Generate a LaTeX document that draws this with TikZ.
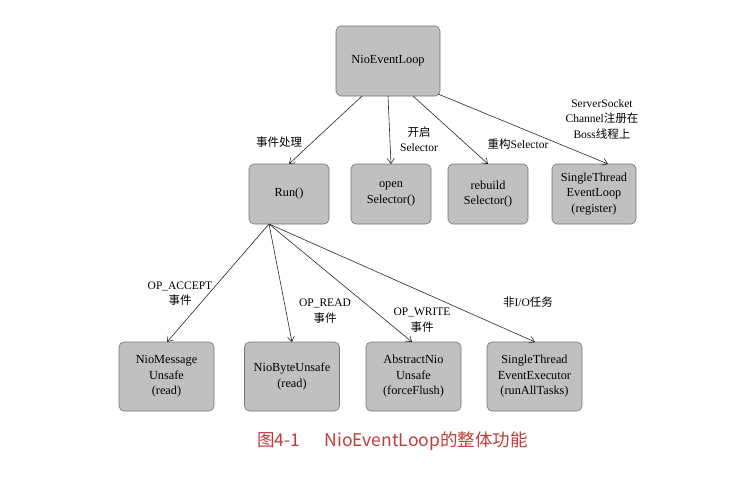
\documentclass[tikz,border=0pt]{standalone}
\usepackage{fontspec}
\setmainfont{Liberation Serif}
\newfontfamily\cjk{Noto Sans CJK SC}
\usetikzlibrary{arrows.meta}
\definecolor{boxfill}{RGB}{192,192,192}
\definecolor{boxline}{RGB}{115,115,115}
\definecolor{captred}{RGB}{190,60,60}
\tikzset{
  box/.style={draw=boxline, fill=boxfill, rounded corners=5pt, line width=0.6pt,
    align=center, font=\fontsize{12.3}{15.5}\selectfont, inner sep=0pt},
  conn/.style={-{Straight Barb[length=5pt,width=7pt]}, line width=0.6pt, black!85},
  lbl/.style={align=center, font=\fontsize{11.5}{15.5}\selectfont, inner sep=0pt},
}
\begin{document}
\begin{tikzpicture}[x=1pt,y=-1pt]
\useasboundingbox (0,0) rectangle (742,483);
% top row
\node[box, minimum width=104pt, minimum height=70pt] (nel) at (388,61) {NioEventLoop};
\node[box, minimum width=80pt, minimum height=60pt] (run) at (289,194) {Run()};
\node[box, minimum width=80pt, minimum height=60pt] (open) at (391,194) {open\\Selector()};
\node[box, minimum width=80pt, minimum height=60pt] (rebuild) at (488,194) {rebuild\\Selector()};
\node[box, minimum width=84pt, minimum height=60pt] (stel) at (594,194) {SingleThread\\EventLoop\\(register)};
% bottom row
\node[box, minimum width=95pt, minimum height=69pt] (nmu) at (166.5,376.5) {NioMessage\\Unsafe\\(read)};
\node[box, minimum width=95pt, minimum height=69pt] (nbu) at (292,376.5) {NioByteUnsafe\\(read)};
\node[box, minimum width=95pt, minimum height=69pt] (anu) at (413.5,376.5) {AbstractNio\\Unsafe\\(forceFlush)};
\node[box, minimum width=95pt, minimum height=69pt] (stee) at (534.5,376.5) {SingleThread\\EventExecutor\\(runAllTasks)};
% anchor coordinates
\coordinate (a1) at (362,96);
\coordinate (a2) at (388,96);
\coordinate (a3) at (413,96);
\coordinate (a4) at (438,94);
\coordinate (b1) at (289,164);
\coordinate (b2) at (391,164);
\coordinate (b3) at (488,164);
\coordinate (b4) at (608,164);
\coordinate (r0) at (269,224);
\coordinate (c1) at (167,342);
\coordinate (c2) at (292,342);
\coordinate (c3) at (412,342);
\coordinate (c4) at (535,342);
\draw[conn] (a1) -- (b1);
\draw[conn] (a2) -- (b2);
\draw[conn] (a3) -- (b3);
\draw[conn] (a4) -- (b4);
\draw[conn] (r0) -- (c1);
\draw[conn] (r0) -- (c2);
\draw[conn] (r0) -- (c3);
\draw[conn] (r0) -- (c4);
% labels
\node[lbl] (l1) at (279,142) {\cjk 事件处理};
\node[lbl] (l2) at (419,139) {{\cjk 开启}\\Selector};
\node[lbl] (l3) at (518,144) {{\cjk 重构}Selector};
\node[lbl] (l4) at (602,119) {ServerSocket\\Channel{\cjk 注册在}\\Boss{\cjk 线程上}};
\node[lbl] (l5) at (180,293.5) {OP\_ACCEPT\\{\cjk 事件}};
\node[lbl] (l6) at (325,311) {OP\_READ\\{\cjk 事件}};
\node[lbl] (l7) at (422,320) {OP\_WRITE\\{\cjk 事件}};
\node[lbl] (l8) at (528,302) {{\cjk 非}I/O{\cjk 任务}};
\node[font=\cjk\fontsize{17.5}{19}\selectfont, text=captred, inner sep=0pt] (cap) at (392.5,441) {图4-1\hspace{1.4em}NioEventLoop的整体功能};
\end{tikzpicture}
\end{document}
